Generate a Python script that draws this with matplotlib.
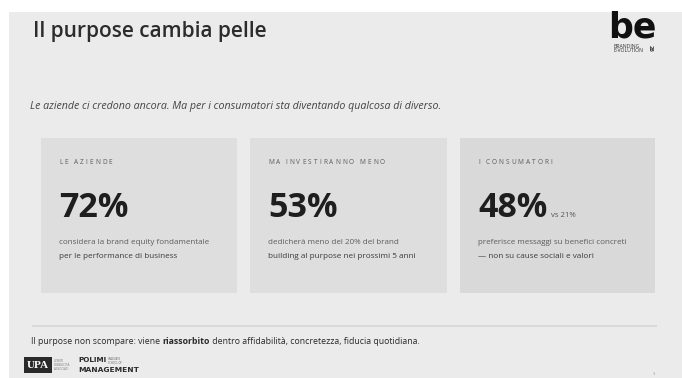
import matplotlib
matplotlib.use("Agg")
import matplotlib.pyplot as plt
from matplotlib.patches import Rectangle

# ---- data ----
title = "Il purpose cambia pelle"
subtitle = "Le aziende ci credono ancora. Ma per i consumatori sta diventando qualcosa di diverso."
card_labels = ["LE AZIENDE", "MA INVESTIRANNO MENO", "I CONSUMATORI"]
card_values = [72, 53, 48]
card_compare = [None, None, 21]
card_desc_1 = ["considera la brand equity fondamentale",
               "dedicherà meno del 20% del brand",
               "preferisce messaggi su benefici concreti"]
card_desc_2 = ["per le performance di business",
               "building al purpose nei prossimi 5 anni",
               "— non su cause sociali e valori"]
footer_parts = ["Il purpose non scompare: viene ", "riassorbito",
                " dentro affidabilità, concretezza, fiducia quotidiana."]

FONT = ["Open Sans", "DejaVu Sans"]
plt.rcParams['font.family'] = FONT

W, H = 682, 378
fig = plt.figure(figsize=(W / 100, H / 100), dpi=100)
fig.patch.set_facecolor("white")
ax = fig.add_axes([0, 0, 1, 1])
ax.set_xlim(0, W)
ax.set_ylim(H, 0)
ax.axis("off")

# slide background
ax.add_patch(Rectangle((9, 12), W - 9, H - 12, facecolor="#ebebeb", edgecolor="none"))

renderer = fig.canvas.get_renderer()


def measure(s, **kw):
    t = ax.text(0, 0, s, **kw)
    w = t.get_window_extent(renderer=renderer).width
    t.remove()
    return w


def spaced_text(x, y, s, spacing, **kw):
    # place each character at the advance of its prefix plus tracking
    for i, ch in enumerate(s):
        if ch == " ":
            continue
        pre = s[:i].replace(" ", "\u00a0")
        off = measure(pre + "x", **kw) - measure("x", **kw) if i else 0
        ax.text(x + off + i * spacing, y, ch, **kw)


def mixed_text(x, y, parts, weights, **kw):
    for p, w in zip(parts, weights):
        t = ax.text(x, y, p.replace(" ", "\u00a0"), fontweight=w, **kw)
        x += t.get_window_extent(renderer=renderer).width
    return x


# title
ax.text(33, 32, title, fontsize=15, fontweight="semibold", color="#2c2c2c",
        va="center", ha="left")

# logo
ax.text(632, 28, "be", fontsize=25, fontweight="bold", color="#111111",
        va="center", ha="center", family=["DejaVu Sans"])
ax.text(613, 48.5, "BRANDING\nE-VOLUTION", fontsize=3.7, color="#333333",
        va="center", ha="left", linespacing=1.0)
ax.text(650, 48.5, "26", fontsize=4.2, fontweight="bold", color="#333333",
        va="center", ha="center", rotation=-90)

# subtitle
ax.text(30, 106, subtitle, fontsize=7.7, style="italic", color="#444444",
        va="center", ha="left")

# cards
card_x = [41, 250, 460]
card_w = [196, 197, 195]
card_colors = ["#dedede", "#dedede", "#d9d9d9"]
for i in range(3):
    x0 = card_x[i]
    ax.add_patch(Rectangle((x0, 138), card_w[i], 155, facecolor=card_colors[i],
                           edgecolor="none"))
    tx = x0 + 18
    spaced_text(tx, 163, card_labels[i], 2.0, fontsize=4.7, color="#5a5a5a",
                va="center", ha="left")
    big = ax.text(tx, 217, f"{card_values[i]}%", fontsize=24.5, fontweight="bold",
                  color="#1e1e1e", va="baseline", ha="left")
    if card_compare[i] is not None:
        bw = big.get_window_extent(renderer=renderer).width
        ax.text(tx + bw + 4, 217, f"vs {card_compare[i]}%", fontsize=5.6,
                color="#555555", va="baseline", ha="left")
    ax.text(tx, 243, card_desc_1[i], fontsize=5.8, color="#5c5c5c",
            va="center", ha="left")
    ax.text(tx, 256, card_desc_2[i], fontsize=5.9, color="#3a3a3a",
            va="center", ha="left")

# divider
ax.plot([32, 657], [326, 326], color="#d6d6d6", lw=1.2, solid_capstyle="butt")

# footer sentence
mixed_text(31, 341, footer_parts, ["normal", "bold", "normal"], fontsize=6.35,
           color="#2a2a2a", va="center", ha="left")

# footer logos
ax.add_patch(Rectangle((24, 357), 28, 16, facecolor="#2a2a2a", edgecolor="none"))
ax.text(38, 365.5, "UPA", fontsize=8, fontweight="bold", color="white",
        va="center", ha="center", family=["Liberation Serif", "DejaVu Serif"])
ax.text(54, 365, "UTENTI\nPUBBLICITÀ\nASSOCIATI", fontsize=2.2, color="#777777",
        va="center", ha="left", linespacing=1.1)
narrow = ["Liberation Sans Narrow", "DejaVu Sans Condensed", "DejaVu Sans"]
pol = ax.text(78, 360.5, "POLIMI", fontsize=5.2, fontweight="bold", color="#2a2a2a",
              va="center", ha="left", family=narrow)
pw = pol.get_window_extent(renderer=renderer).width
ax.text(78 + pw + 1.5, 361, "GRADUATE\nSCHOOL OF", fontsize=1.8, color="#555555",
        va="center", ha="left", linespacing=1.0)
ax.text(78, 369.5, "MANAGEMENT", fontsize=5.4, fontweight="bold", color="#2a2a2a",
        va="center", ha="left", family=narrow)

ax.text(654, 374, "3", fontsize=3, color="#999999", va="center", ha="center")

fig.savefig("out.png", dpi=100, facecolor=fig.get_facecolor())
